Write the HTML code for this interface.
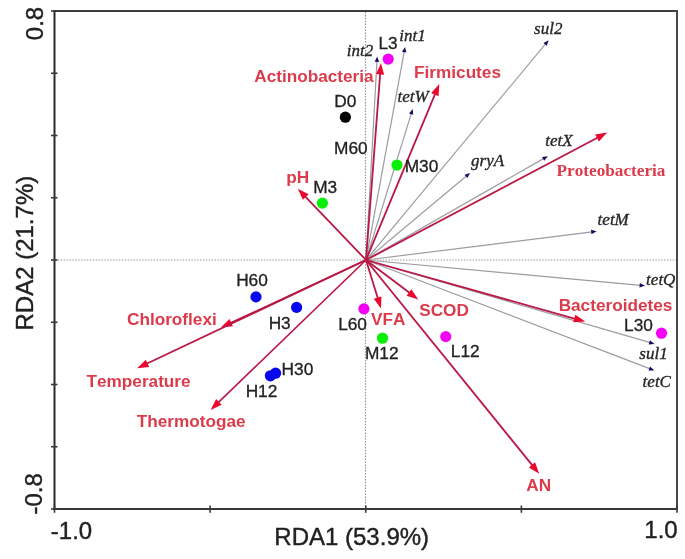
<!DOCTYPE html>
<html><head><meta charset="utf-8"><style>
html,body{margin:0;padding:0;background:#fff;}
svg{display:block;}
.t{opacity:0.995}
text{font-kerning:none;}
</style></head><body>
<svg width="685" height="559" viewBox="0 0 685 559">
<rect width="685" height="559" fill="#fff"/>
<line x1="365.5" y1="12" x2="365.5" y2="508" stroke="#909090" stroke-width="1.1" stroke-dasharray="1.5 1.4"/>
<line x1="55" y1="260" x2="676" y2="260" stroke="#9a9a9a" stroke-width="1.2" stroke-dasharray="1.5 1.4"/>
<line x1="366" y1="260" x2="376.96" y2="60.89" stroke="#9c9ca2" stroke-width="1.2"/><polygon points="377.20,56.50 379.10,62.01 374.71,61.77" fill="#1A0A60"/>
<line x1="366" y1="260" x2="404.31" y2="51.23" stroke="#9c9ca2" stroke-width="1.2"/><polygon points="405.10,46.90 406.29,52.61 401.96,51.81" fill="#1A0A60"/>
<line x1="366" y1="260" x2="545.79" y2="43.58" stroke="#9c9ca2" stroke-width="1.2"/><polygon points="548.60,40.20 546.84,45.76 543.46,42.95" fill="#1A0A60"/>
<line x1="366" y1="260" x2="411.40" y2="113.10" stroke="#9c9ca2" stroke-width="1.2"/><polygon points="412.70,108.90 413.21,114.71 409.00,113.41" fill="#1A0A60"/>
<line x1="366" y1="260" x2="543.98" y2="158.38" stroke="#9c9ca2" stroke-width="1.2"/><polygon points="547.80,156.20 544.20,160.79 542.02,156.97" fill="#1A0A60"/>
<line x1="366" y1="260" x2="466.73" y2="175.72" stroke="#9c9ca2" stroke-width="1.2"/><polygon points="470.10,172.90 467.37,178.05 464.55,174.68" fill="#1A0A60"/>
<line x1="366" y1="260" x2="592.23" y2="231.84" stroke="#9c9ca2" stroke-width="1.2"/><polygon points="596.60,231.30 591.51,234.15 590.97,229.78" fill="#1A0A60"/>
<line x1="366" y1="260" x2="640.62" y2="285.39" stroke="#9c9ca2" stroke-width="1.2"/><polygon points="645.00,285.80 639.42,287.49 639.83,283.11" fill="#1A0A60"/>
<line x1="366" y1="260" x2="650.28" y2="342.67" stroke="#9c9ca2" stroke-width="1.2"/><polygon points="654.50,343.90 648.70,344.50 649.93,340.28" fill="#1A0A60"/>
<line x1="366" y1="260" x2="650.19" y2="368.83" stroke="#9c9ca2" stroke-width="1.2"/><polygon points="654.30,370.40 648.47,370.52 650.04,366.41" fill="#1A0A60"/>
<line x1="366" y1="260" x2="380.20" y2="73.37" stroke="#BA1844" stroke-width="1.8"/><polygon points="381.00,62.90 384.12,74.67 376.14,74.06" fill="#EA082F"/>
<line x1="366" y1="260" x2="435.26" y2="93.69" stroke="#BA1844" stroke-width="1.8"/><polygon points="439.30,84.00 438.57,96.15 431.19,93.08" fill="#EA082F"/>
<line x1="366" y1="260" x2="597.92" y2="137.50" stroke="#BA1844" stroke-width="1.8"/><polygon points="607.20,132.60 598.90,141.51 595.16,134.43" fill="#EA082F"/>
<line x1="366" y1="260" x2="305.06" y2="196.29" stroke="#BA1844" stroke-width="1.8"/><polygon points="297.80,188.70 308.64,194.25 302.86,199.78" fill="#EA082F"/>
<line x1="366" y1="260" x2="575.19" y2="318.76" stroke="#BA1844" stroke-width="1.8"/><polygon points="585.30,321.60 573.15,322.34 575.31,314.64" fill="#EA082F"/>
<line x1="366" y1="260" x2="409.82" y2="293.07" stroke="#BA1844" stroke-width="1.8"/><polygon points="418.20,299.40 406.61,295.66 411.43,289.28" fill="#EA082F"/>
<line x1="366" y1="260" x2="377.90" y2="298.57" stroke="#BA1844" stroke-width="1.8"/><polygon points="381.00,308.60 373.79,298.79 381.43,296.43" fill="#EA082F"/>
<line x1="366" y1="260" x2="532.59" y2="465.64" stroke="#BA1844" stroke-width="1.8"/><polygon points="539.20,473.80 528.85,467.38 535.07,462.35" fill="#EA082F"/>
<line x1="366" y1="260" x2="230.32" y2="323.17" stroke="#BA1844" stroke-width="1.8"/><polygon points="220.80,327.60 229.54,319.12 232.91,326.37" fill="#EA082F"/>
<line x1="366" y1="260" x2="146.59" y2="363.81" stroke="#BA1844" stroke-width="1.8"/><polygon points="137.10,368.30 145.78,359.77 149.21,367.00" fill="#EA082F"/>
<line x1="366" y1="260" x2="218.16" y2="402.61" stroke="#BA1844" stroke-width="1.5999999999999999"/><polygon points="210.60,409.90 216.10,399.04 221.65,404.79" fill="#EA082F"/>
<circle cx="388.2" cy="59.1" r="5.6" fill="#F400F4"/>
<circle cx="345.35" cy="117.2" r="5.6" fill="#000000"/>
<circle cx="397" cy="165.1" r="5.6" fill="#08F008"/>
<circle cx="322.4" cy="203.1" r="5.6" fill="#08F008"/>
<circle cx="256" cy="296.9" r="5.6" fill="#0808EC"/>
<circle cx="296.6" cy="307.4" r="5.6" fill="#0808EC"/>
<circle cx="363.9" cy="308.9" r="5.6" fill="#F400F4"/>
<circle cx="382.5" cy="338.2" r="5.6" fill="#08F008"/>
<circle cx="445.75" cy="336.6" r="5.6" fill="#F400F4"/>
<circle cx="661.5" cy="333.2" r="5.6" fill="#F400F4"/>
<circle cx="275.6" cy="373.2" r="5.6" fill="#0808EC"/>
<circle cx="270.4" cy="375.8" r="5.6" fill="#0808EC"/>
<line x1="53.5" y1="11" x2="678" y2="11" stroke="#3c3c3c" stroke-width="2"/>
<line x1="53.5" y1="509" x2="678" y2="509" stroke="#383838" stroke-width="2"/>
<line x1="54.5" y1="10" x2="54.5" y2="510" stroke="#2a2a2a" stroke-width="2"/>
<line x1="677" y1="10" x2="677" y2="510" stroke="#484848" stroke-width="2"/>
<line x1="51" y1="11.0" x2="57.5" y2="11.0" stroke="#3a3a3a" stroke-width="1.6"/>
<line x1="51" y1="73.25" x2="57.5" y2="73.25" stroke="#3a3a3a" stroke-width="1.6"/>
<line x1="51" y1="135.5" x2="57.5" y2="135.5" stroke="#3a3a3a" stroke-width="1.6"/>
<line x1="51" y1="197.75" x2="57.5" y2="197.75" stroke="#3a3a3a" stroke-width="1.6"/>
<line x1="51" y1="260.0" x2="57.5" y2="260.0" stroke="#3a3a3a" stroke-width="1.6"/>
<line x1="51" y1="322.25" x2="57.5" y2="322.25" stroke="#3a3a3a" stroke-width="1.6"/>
<line x1="51" y1="384.5" x2="57.5" y2="384.5" stroke="#3a3a3a" stroke-width="1.6"/>
<line x1="51" y1="446.75" x2="57.5" y2="446.75" stroke="#3a3a3a" stroke-width="1.6"/>
<line x1="51" y1="509.0" x2="57.5" y2="509.0" stroke="#3a3a3a" stroke-width="1.6"/>
<line x1="54.5" y1="505.5" x2="54.5" y2="512.8" stroke="#3a3a3a" stroke-width="1.6"/>
<line x1="210.125" y1="505.5" x2="210.125" y2="512.8" stroke="#3a3a3a" stroke-width="1.6"/>
<line x1="365.75" y1="505.5" x2="365.75" y2="512.8" stroke="#3a3a3a" stroke-width="1.6"/>
<line x1="521.375" y1="505.5" x2="521.375" y2="512.8" stroke="#3a3a3a" stroke-width="1.6"/>
<line x1="677.0" y1="505.5" x2="677.0" y2="512.8" stroke="#3a3a3a" stroke-width="1.6"/>
<g class="t">
<text x="378.45" y="49.25" style="font-family:'Liberation Sans', sans-serif;font-size:17.3px;font-weight:normal;font-style:normal" fill="#202020" stroke="#202020" stroke-width="0.3">L3</text>
<text x="334.25" y="107.35" style="font-family:'Liberation Sans', sans-serif;font-size:17.3px;font-weight:normal;font-style:normal" fill="#202020" stroke="#202020" stroke-width="0.3">D0</text>
<text x="334.05" y="153.55" style="font-family:'Liberation Sans', sans-serif;font-size:17.3px;font-weight:normal;font-style:normal" fill="#202020" stroke="#202020" stroke-width="0.3">M60</text>
<text x="404.65" y="171.95" style="font-family:'Liberation Sans', sans-serif;font-size:17.3px;font-weight:normal;font-style:normal" fill="#202020" stroke="#202020" stroke-width="0.3">M30</text>
<text x="313.15" y="193.05" style="font-family:'Liberation Sans', sans-serif;font-size:17.3px;font-weight:normal;font-style:normal" fill="#202020" stroke="#202020" stroke-width="0.3">M3</text>
<text x="236.15" y="285.50" style="font-family:'Liberation Sans', sans-serif;font-size:17.3px;font-weight:normal;font-style:normal" fill="#202020" stroke="#202020" stroke-width="0.3">H60</text>
<text x="268.65" y="328.55" style="font-family:'Liberation Sans', sans-serif;font-size:17.3px;font-weight:normal;font-style:normal" fill="#202020" stroke="#202020" stroke-width="0.3">H3</text>
<text x="338.15" y="329.75" style="font-family:'Liberation Sans', sans-serif;font-size:17.3px;font-weight:normal;font-style:normal" fill="#202020" stroke="#202020" stroke-width="0.3">L60</text>
<text x="364.95" y="358.95" style="font-family:'Liberation Sans', sans-serif;font-size:17.3px;font-weight:normal;font-style:normal" fill="#202020" stroke="#202020" stroke-width="0.3">M12</text>
<text x="450.85" y="357.25" style="font-family:'Liberation Sans', sans-serif;font-size:17.3px;font-weight:normal;font-style:normal" fill="#202020" stroke="#202020" stroke-width="0.3">L12</text>
<text x="624.05" y="331.45" style="font-family:'Liberation Sans', sans-serif;font-size:17.3px;font-weight:normal;font-style:normal" fill="#202020" stroke="#202020" stroke-width="0.3">L30</text>
<text x="281.55" y="375.05" style="font-family:'Liberation Sans', sans-serif;font-size:17.3px;font-weight:normal;font-style:normal" fill="#202020" stroke="#202020" stroke-width="0.3">H30</text>
<text x="245.65" y="396.65" style="font-family:'Liberation Sans', sans-serif;font-size:17.3px;font-weight:normal;font-style:normal" fill="#202020" stroke="#202020" stroke-width="0.3">H12</text>
<text x="254.25" y="81.70" style="font-family:'Liberation Sans', sans-serif;font-size:17.2px;font-weight:bold;font-style:normal" fill="#DB3A4A">Actinobacteria</text>
<text x="414.05" y="78.20" style="font-family:'Liberation Sans', sans-serif;font-size:17.2px;font-weight:bold;font-style:normal" fill="#DB3A4A">Firmicutes</text>
<text x="286.35" y="182.60" style="font-family:'Liberation Sans', sans-serif;font-size:17.2px;font-weight:bold;font-style:normal" fill="#DB3A4A">pH</text>
<text x="558.65" y="311.40" style="font-family:'Liberation Sans', sans-serif;font-size:17.2px;font-weight:bold;font-style:normal" fill="#DB3A4A">Bacteroidetes</text>
<text x="419.20" y="316.40" style="font-family:'Liberation Sans', sans-serif;font-size:17.2px;font-weight:bold;font-style:normal" fill="#DB3A4A">SCOD</text>
<text x="371.05" y="325.40" style="font-family:'Liberation Sans', sans-serif;font-size:17.2px;font-weight:bold;font-style:normal" fill="#DB3A4A">VFA</text>
<text x="526.35" y="490.80" style="font-family:'Liberation Sans', sans-serif;font-size:17.2px;font-weight:bold;font-style:normal" fill="#DB3A4A">AN</text>
<text x="127.00" y="325.40" style="font-family:'Liberation Sans', sans-serif;font-size:17.2px;font-weight:bold;font-style:normal" fill="#DB3A4A">Chloroflexi</text>
<text x="86.50" y="386.60" style="font-family:'Liberation Sans', sans-serif;font-size:17.2px;font-weight:bold;font-style:normal" fill="#DB3A4A">Temperature</text>
<text x="136.70" y="427.30" style="font-family:'Liberation Sans', sans-serif;font-size:17.2px;font-weight:bold;font-style:normal" fill="#DB3A4A">Thermotogae</text>
<text x="556.60" y="175.90" style="font-family:'Liberation Serif', serif;font-size:17.2px;font-weight:bold;font-style:normal" fill="#DB3A4A">Proteobacteria</text>
<text x="346.73" y="56.43" style="font-family:'Liberation Serif', serif;font-size:17px;font-weight:normal;font-style:italic" fill="#262626" stroke="#262626" stroke-width="0.35">int2</text>
<text x="399.23" y="40.53" style="font-family:'Liberation Serif', serif;font-size:17px;font-weight:normal;font-style:italic" fill="#262626" stroke="#262626" stroke-width="0.35">int1</text>
<text x="534.07" y="33.62" style="font-family:'Liberation Serif', serif;font-size:17px;font-weight:normal;font-style:italic" fill="#262626" stroke="#262626" stroke-width="0.35">sul2</text>
<text x="397.43" y="101.83" style="font-family:'Liberation Serif', serif;font-size:17px;font-weight:normal;font-style:italic" fill="#262626" stroke="#262626" stroke-width="0.35">tetW</text>
<text x="545.32" y="145.72" style="font-family:'Liberation Serif', serif;font-size:17px;font-weight:normal;font-style:italic" fill="#262626" stroke="#262626" stroke-width="0.35">tetX</text>
<text x="471.07" y="166.32" style="font-family:'Liberation Serif', serif;font-size:17px;font-weight:normal;font-style:italic" fill="#262626" stroke="#262626" stroke-width="0.35">gryA</text>
<text x="597.62" y="225.32" style="font-family:'Liberation Serif', serif;font-size:17px;font-weight:normal;font-style:italic" fill="#262626" stroke="#262626" stroke-width="0.35">tetM</text>
<text x="646.12" y="285.02" style="font-family:'Liberation Serif', serif;font-size:17px;font-weight:normal;font-style:italic" fill="#262626" stroke="#262626" stroke-width="0.35">tetQ</text>
<text x="639.37" y="359.02" style="font-family:'Liberation Serif', serif;font-size:17px;font-weight:normal;font-style:italic" fill="#262626" stroke="#262626" stroke-width="0.35">sul1</text>
<text x="642.62" y="386.82" style="font-family:'Liberation Serif', serif;font-size:17px;font-weight:normal;font-style:italic" fill="#262626" stroke="#262626" stroke-width="0.35">tetC</text>
<text x="50.85" y="538.50" style="font-family:'Liberation Sans', sans-serif;font-size:24px;font-weight:normal;font-style:normal" fill="#202020" stroke="#202020" stroke-width="0.4">-1.0</text>
<text x="644.35" y="537.70" style="font-family:'Liberation Sans', sans-serif;font-size:24px;font-weight:normal;font-style:normal" fill="#202020" stroke="#202020" stroke-width="0.4">1.0</text>
<text x="274.35" y="545.10" style="font-family:'Liberation Sans', sans-serif;font-size:24px;font-weight:normal;font-style:normal" fill="#202020" stroke="#202020" stroke-width="0.4">RDA1 (53.9%)</text>
<text transform="translate(32.8,330.5) rotate(-90)" x="0" y="0" style="font-family:'Liberation Sans', sans-serif;font-size:24px" fill="#202020" stroke="#202020" stroke-width="0.4">RDA2 (21.7%)</text>
<text transform="translate(43.3,40.15) rotate(-90)" x="0" y="0" style="font-family:'Liberation Sans', sans-serif;font-size:24px" fill="#202020" stroke="#202020" stroke-width="0.4">0.8</text>
<text transform="translate(42.2,514.6) rotate(-90)" x="0" y="0" style="font-family:'Liberation Sans', sans-serif;font-size:24px" fill="#202020" stroke="#202020" stroke-width="0.4">-0.8</text>
</g>
</svg>
</body></html>
